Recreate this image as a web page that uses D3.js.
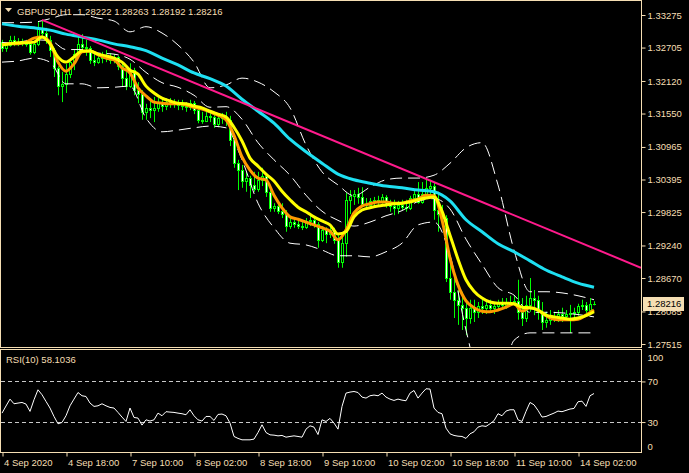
<!DOCTYPE html>
<html><head><meta charset="utf-8">
<script src="https://cdn.jsdelivr.net/npm/d3@7"></script>
<style>
html,body{margin:0;padding:0;background:#000;}
svg{display:block;}
text{font-family:"Liberation Sans",Arial,sans-serif;font-size:9.5px;white-space:pre;}
</style>
</head><body>
<svg id="c" width="689" height="473"></svg>
<script>
// ---------------- DATA ----------------
const symbol = "GBPUSD,H1";
const timeLabels = ["4 Sep 2020","4 Sep 18:00","7 Sep 10:00","8 Sep 02:00","8 Sep 18:00","9 Sep 10:00","10 Sep 02:00","10 Sep 18:00","11 Sep 10:00","14 Sep 02:00"];
const timeLabelBars = [0,16,32,48,64,80,96,112,128,144];
const priceTicks = [1.33275,1.32705,1.32120,1.31550,1.30965,1.30395,1.29825,1.29240,1.28670,1.28085,1.27515];
const rsiTicks = [100,70,30,0];
const rsiLevels = [70,30];

const open = [
1.3280,1.3270,1.3275,1.3284,1.3279,1.3280,1.3282,1.3277,1.3263,1.3277,
1.3305,1.3296,1.3284,1.3266,1.3235,1.3203,1.3207,1.3224,1.3245,1.3259,
1.3277,1.3272,1.3270,1.3249,1.3245,1.3252,1.3256,1.3252,1.3249,1.3254,
1.3238,1.3217,1.3203,1.3231,1.3196,1.3189,1.3158,1.3165,1.3161,1.3165,
1.3175,1.3168,1.3175,1.3173,1.3172,1.3170,1.3168,1.3166,1.3173,1.3161,
1.3144,1.3142,1.3151,1.3149,1.3137,1.3147,1.3149,1.3144,1.3109,1.3068,
1.3056,1.3037,1.3042,1.3030,1.3023,1.3039,1.3046,1.3018,1.2990,1.2993,
1.2984,1.2979,1.2958,1.2965,1.2962,1.2958,1.2956,1.2967,1.2969,1.2962,
1.2934,1.2951,1.2944,1.2951,1.2934,1.2895,1.2928,1.3004,1.3011,1.3014,
1.3009,1.2997,1.2995,1.3002,1.3004,1.3002,1.3009,1.2997,1.2993,1.2990,
1.2995,1.2991,1.2990,1.3007,1.3014,1.3000,1.3014,1.3025,1.3028,1.2986,
1.2979,1.2972,1.2867,1.2843,1.2829,1.2820,1.2815,1.2797,1.2815,1.2808,
1.2818,1.2815,1.2820,1.2815,1.2818,1.2823,1.2820,1.2825,1.2823,1.2827,
1.2808,1.2797,1.2820,1.2832,1.2829,1.2808,1.2790,1.2794,1.2799,1.2801,
1.2804,1.2801,1.2804,1.2806,1.2808,1.2818,1.2820,1.2811,1.28222];
const high = [
1.3284,1.3280,1.3291,1.3291,1.3287,1.3286,1.3284,1.3280,1.3280,1.3315,
1.3319,1.3305,1.3291,1.3270,1.3238,1.3228,1.3242,1.3252,1.3266,1.3291,
1.3294,1.3284,1.3273,1.3263,1.3259,1.3263,1.3266,1.3261,1.3259,1.3256,
1.3245,1.3228,1.3243,1.3235,1.3210,1.3196,1.3172,1.3182,1.3184,1.3182,
1.3182,1.3182,1.3182,1.3180,1.3179,1.3179,1.3175,1.3179,1.3177,1.3168,
1.3158,1.3158,1.3158,1.3158,1.3154,1.3156,1.3158,1.3151,1.3112,1.3074,
1.3065,1.3053,1.3046,1.3053,1.3053,1.3060,1.3049,1.3021,1.2998,1.2997,
1.2998,1.2986,1.2972,1.2972,1.2970,1.2969,1.2972,1.2976,1.2972,1.2965,
1.2958,1.2956,1.2958,1.2955,1.2942,1.2946,1.3016,1.3021,1.3021,1.3025,
1.3026,1.3007,1.3007,1.3009,1.3011,1.3014,1.3012,1.3004,1.3004,1.3002,
1.3004,1.3004,1.3011,1.3021,1.3035,1.3035,1.3042,1.3039,1.3035,1.3018,
1.2995,1.2977,1.2895,1.2867,1.2846,1.2843,1.2829,1.2829,1.2829,1.2825,
1.2829,1.2829,1.2829,1.2825,1.2829,1.2832,1.2832,1.2836,1.2836,1.2864,
1.2832,1.2836,1.2867,1.2846,1.2836,1.2825,1.2808,1.2811,1.2808,1.2811,
1.2815,1.2811,1.2820,1.2815,1.2822,1.2829,1.2825,1.2832,1.28263];
const low = [
1.3263,1.3263,1.3272,1.3273,1.3273,1.3273,1.3272,1.3258,1.3259,1.3273,
1.3291,1.3277,1.3254,1.3219,1.3187,1.3175,1.3191,1.3217,1.3231,1.3256,
1.3263,1.3256,1.3242,1.3238,1.3242,1.3243,1.3245,1.3242,1.3243,1.3231,
1.3203,1.3196,1.3200,1.3187,1.3173,1.3144,1.3144,1.3147,1.3140,1.3158,
1.3158,1.3161,1.3165,1.3165,1.3161,1.3161,1.3158,1.3161,1.3154,1.3138,
1.3137,1.3140,1.3140,1.3130,1.3131,1.3137,1.3133,1.3098,1.3060,1.3021,
1.3025,1.3018,1.3007,1.3018,1.3018,1.3028,1.3009,1.2983,1.2983,1.2979,
1.2972,1.2948,1.2953,1.2955,1.2953,1.2951,1.2953,1.2958,1.2955,1.2920,
1.2930,1.2928,1.2937,1.2927,1.2885,1.2885,1.2904,1.2979,1.2995,1.2997,
1.2991,1.2990,1.2990,1.2993,1.2993,1.2997,1.2990,1.2983,1.2977,1.2979,
1.2986,1.2983,1.2986,1.3000,1.2997,1.2997,1.3007,1.3012,1.2969,1.2948,
1.2960,1.2860,1.2829,1.2797,1.2785,1.2776,1.2767,1.2787,1.2790,1.2797,
1.2804,1.2804,1.2808,1.2804,1.2811,1.2815,1.2813,1.2818,1.2818,1.2794,
1.2783,1.2790,1.2808,1.2802,1.2794,1.2776,1.2780,1.2785,1.2790,1.2790,
1.2790,1.2794,1.2771,1.2797,1.2801,1.2811,1.2804,1.2808,1.28192];
const close = [
1.3270,1.3275,1.3284,1.3279,1.3280,1.3282,1.3277,1.3263,1.3277,1.3305,
1.3296,1.3284,1.3266,1.3235,1.3203,1.3207,1.3224,1.3245,1.3259,1.3277,
1.3272,1.3270,1.3249,1.3245,1.3252,1.3256,1.3252,1.3249,1.3254,1.3238,
1.3217,1.3203,1.3231,1.3196,1.3189,1.3158,1.3165,1.3161,1.3165,1.3175,
1.3168,1.3175,1.3173,1.3172,1.3170,1.3168,1.3166,1.3173,1.3161,1.3144,
1.3142,1.3151,1.3149,1.3137,1.3147,1.3149,1.3144,1.3109,1.3068,1.3056,
1.3037,1.3042,1.3030,1.3023,1.3039,1.3046,1.3018,1.2990,1.2993,1.2984,
1.2979,1.2958,1.2965,1.2962,1.2958,1.2956,1.2967,1.2969,1.2962,1.2934,
1.2951,1.2944,1.2951,1.2934,1.2895,1.2928,1.3004,1.3011,1.3014,1.3009,
1.2997,1.2995,1.3002,1.3004,1.3002,1.3009,1.2997,1.2993,1.2990,1.2995,
1.2991,1.2990,1.3007,1.3014,1.3000,1.3014,1.3025,1.3028,1.2986,1.2979,
1.2972,1.2867,1.2843,1.2829,1.2820,1.2815,1.2797,1.2815,1.2808,1.2818,
1.2815,1.2820,1.2815,1.2818,1.2823,1.2820,1.2825,1.2823,1.2827,1.2808,
1.2797,1.2820,1.2832,1.2829,1.2808,1.2790,1.2794,1.2799,1.2801,1.2804,
1.2801,1.2804,1.2806,1.2808,1.2818,1.2820,1.2811,1.2822,1.28216];

const rsi = [
38.8,45.8,52.6,48.0,48.7,49.3,47.7,40.5,52.0,61.8,
56.9,50.3,43.8,35.5,28.3,29.6,36.2,46.0,52.6,59.1,
55.9,55.2,48.7,45.4,46.0,48.0,46.0,44.4,43.8,39.5,
34.9,30.6,43.8,34.5,33.9,27.0,32.2,31.0,32.2,38.8,
36.2,40.2,39.8,39.5,38.8,38.2,37.2,42.1,36.2,32.2,
31.0,35.5,35.5,31.6,37.5,37.9,36.2,29.0,15.8,13.9,
12.5,12.5,12.5,13.2,19.7,27.3,19.7,17.4,17.1,16.4,
16.8,15.1,15.8,16.4,15.8,15.1,23.0,26.3,25.0,17.7,
32.2,30.6,33.6,29.0,23.0,45.4,58.5,59.5,60.1,59.1,
54.6,53.6,55.9,56.6,55.9,58.5,54.6,52.6,51.3,52.6,
51.6,51.0,58.5,61.1,53.6,58.5,62.8,62.5,43.8,39.5,
38.2,24.0,18.4,16.8,16.1,15.8,13.9,18.4,20.4,25.0,
26.3,25.7,28.3,31.3,38.2,36.2,40.8,42.1,42.1,32.2,
30.6,40.5,49.3,47.0,41.5,34.9,35.5,37.2,38.8,40.8,
40.2,41.5,42.8,43.4,50.0,50.6,45.4,55.9,58.1036];

// moving averages read every 2 bars
const maBars = [0,2,4,6,8,10,12,14,16,18,20,22,24,26,28,30,32,34,36,38,40,42,44,46,48,50,52,54,56,58,60,62,64,66,68,70,72,74,76,78,80,82,84,86,88,90,92,94,96,98,100,102,104,106,108,110,112,114,116,118,120,122,124,126,128,130,132,134,136,138,140,142,144,146,148];
const maYellow = [
1.3275,1.3277,1.3279,1.3279,1.3280,1.3289,1.3277,1.3254,1.3245,1.3254,
1.32645,1.32645,1.3259,1.3256,1.3252,1.3245,1.3231,1.3224,1.3203,1.3191,
1.3182,1.3177,1.3173,1.3172,1.3168,1.3165,1.3159,1.3154,1.3149,1.3131,
1.3107,1.3077,1.3063,1.3049,1.3037,1.3019,1.3004,1.2991,1.2983,1.2974,
1.2967,1.2960,1.2944,1.2948,1.2974,1.2986,1.2990,1.2993,1.2995,1.2997,
1.2998,1.3000,1.3004,1.3007,1.3009,1.2984,1.2942,1.2900,1.2864,1.2844,
1.2832,1.2825,1.2823,1.2823,1.2822,1.2816,1.2815,1.2811,1.2802,1.2799,
1.2797,1.2795,1.2797,1.2801,1.2808];
const maOrange = [
1.3275,1.3277,1.3277,1.3280,1.3287,1.3289,1.3279,1.3245,1.3229,1.3242,
1.3263,1.32645,1.3258,1.3252,1.3249,1.3235,1.3226,1.3200,1.3186,1.3175,
1.3173,1.3172,1.3172,1.3170,1.3166,1.3163,1.3158,1.3152,1.3144,1.3117,
1.3079,1.3056,1.3042,1.3039,1.3012,1.2990,1.2974,1.2970,1.2965,1.2960,
1.2955,1.2949,1.2934,1.2951,1.2981,1.2993,1.2997,1.3000,1.3000,1.2998,
1.2998,1.3002,1.3005,1.3012,1.3011,1.2969,1.2902,1.2855,1.2827,1.2815,
1.2809,1.2808,1.2811,1.2816,1.2822,1.2809,1.2815,1.2811,1.2801,1.2795,
1.2794,1.2794,1.2795,1.2802,1.2811];

// slow MA and bands read every 4 bars
const bandBars = [0,4,8,12,16,20,24,28,32,36,40,44,48,52,56,60,64,68,72,76,80,84,88,92,96,100,104,108,112,116,120,124,128,132,136,140,144,148];
const maCyan = [
1.3312,1.3308,1.3305,1.3301,1.3294,1.3289,1.3284,1.3277,1.3272,1.3265,
1.3252,1.3240,1.3226,1.3216,1.3203,1.3180,1.3159,1.3138,1.3110,1.3088,
1.3068,1.3049,1.3039,1.3033,1.3028,1.3025,1.3021,1.3018,1.3002,1.2969,
1.2948,1.2927,1.2913,1.2897,1.2881,1.2869,1.2858,1.2851];
const bbUpper = [
1.3314,1.3314,1.3315,1.3321,1.3328,1.3328,1.3322,1.3317,1.3298,1.3307,
1.3296,1.3275,1.3245,1.3200,1.3205,1.3217,1.3210,1.3193,1.3165,1.3100,
1.3053,1.3030,1.3011,1.3026,1.3039,1.3042,1.3042,1.3047,1.3068,1.3095,
1.3104,1.3030,1.2916,1.2843,1.2843,1.2841,1.2836,1.2829];
const bbMiddle = [
1.3279,1.3280,1.3284,1.3283,1.3267,1.3267,1.3261,1.3259,1.3250,1.3227,
1.3209,1.3201,1.3187,1.3166,1.3167,1.3145,1.3104,1.3074,1.3047,1.3012,
1.2984,1.2968,1.2958,1.2965,1.2976,1.2985,1.3001,1.3006,1.2988,1.2935,
1.2891,1.2850,1.2837,1.2807,1.2807,1.2806,1.2803,1.2799];
const bbLower = [
1.3245,1.3247,1.3252,1.3245,1.3207,1.3207,1.3200,1.3201,1.3203,1.3147,
1.3123,1.3126,1.3130,1.3133,1.3130,1.3074,1.2998,1.2955,1.2928,1.2925,
1.2916,1.2906,1.2906,1.2904,1.2913,1.2928,1.2960,1.2965,1.2907,1.2776,
1.2680,1.2671,1.2758,1.2771,1.2771,1.2771,1.2771,1.2771];

// trend line anchors (bar index, price); drawn as a ray to the right edge
const trendBars = [10,148];
const trendPrices = [1.3319,1.2919];

// ---------------- DRAW ----------------
const fg = "#f5deb3";
const svg = d3.select("#c");
svg.append("rect").attr("width",689).attr("height",473).attr("fill","#000");

const x = d3.scaleLinear().domain([0,148]).range([2,594]);
const y = d3.scaleLinear().domain([1.27515,1.33275]).range([344,15]);
const yr = d3.scaleLinear().domain([0,100]).range([452.5,351]);

const defs = svg.append("defs");
defs.append("clipPath").attr("id","clipMain").append("rect").attr("x",1).attr("y",1).attr("width",640).attr("height",346);
defs.append("clipPath").attr("id","clipRsi").append("rect").attr("x",1).attr("y",350).attr("width",640).attr("height",102);

const main = svg.append("g").attr("clip-path","url(#clipMain)");

// candles
const cg = main.append("g");
close.forEach((c,i)=>{
  const o=open[i], h=high[i], l=low[i];
  const xi = Math.round(x(i));
  cg.append("line").attr("x1",xi+0.5).attr("x2",xi+0.5)
    .attr("y1",y(h)).attr("y2",y(l)).attr("stroke","#00ff00").attr("stroke-width",1);
  const top = Math.round(y(Math.max(o,c))), bot = Math.round(y(Math.min(o,c)));
  if (bot-top < 1) {
    cg.append("line").attr("x1",xi-1).attr("x2",xi+2).attr("y1",top+0.5).attr("y2",top+0.5)
      .attr("stroke","#00ff00");
  } else {
    cg.append("rect").attr("x",xi-0.5).attr("y",top+0.5).attr("width",2).attr("height",bot-top)
      .attr("fill", c>o ? "#000" : "#fff").attr("stroke","#00ff00").attr("stroke-width",1);
  }
});

function path(bars, vals){
  return d3.line().x((d,i)=>x(bars[i])).y(d=>y(d)).curve(d3.curveMonotoneX)(vals);
}
// Bollinger bands (dashed white)
[bbUpper,bbMiddle,bbLower].forEach(arr=>{
  main.append("path").attr("d",path(bandBars,arr)).attr("fill","none")
    .attr("stroke","#fff").attr("stroke-width",1).attr("stroke-dasharray","12,6");
});
// slow MA
main.append("path").attr("d",path(bandBars,maCyan)).attr("fill","none")
  .attr("stroke","#1ee0f2").attr("stroke-width",3);
// fast MAs
main.append("path").attr("d",path(maBars,maOrange)).attr("fill","none")
  .attr("stroke","#ff9a00").attr("stroke-width",3);
main.append("path").attr("d",path(maBars,maYellow)).attr("fill","none")
  .attr("stroke","#ffff00").attr("stroke-width",3);
// trend line (ray)
{
  const x1=x(trendBars[0]), y1=y(trendPrices[0]), x2=x(trendBars[1]), y2=y(trendPrices[1]);
  const xe=641, ye=y1+(y2-y1)*(xe-x1)/(x2-x1);
  main.append("line").attr("x1",x1).attr("y1",y1).attr("x2",xe).attr("y2",ye)
    .attr("stroke","#ff1a8c").attr("stroke-width",2);
}

// frames
svg.append("rect").attr("x",0.5).attr("y",0.5).attr("width",641).attr("height",347)
  .attr("fill","none").attr("stroke",fg);
svg.append("rect").attr("x",0.5).attr("y",349.5).attr("width",641).attr("height",103)
  .attr("fill","none").attr("stroke",fg);

// price axis
const pa = svg.append("g").attr("transform","translate(641.5,0)")
  .call(d3.axisRight(y).tickValues(priceTicks).tickSize(4).tickPadding(2).tickFormat(d3.format(".5f")));
pa.select(".domain").remove();
pa.selectAll("line").attr("stroke",fg);
pa.selectAll("text").attr("fill",fg).attr("font-family","Liberation Sans, Arial, sans-serif").attr("font-size","9.5px");

// current price label
const lastC = close[close.length-1];
svg.append("rect").attr("x",643).attr("y",Math.round(y(lastC))-7).attr("width",41).attr("height",14).attr("fill",fg);
svg.append("text").attr("x",647).attr("y",y(lastC)).attr("dy","0.35em").attr("fill","#000").text(lastC.toFixed(5));

// title
svg.append("path").attr("d","M5,8L12,8L8.5,12Z").attr("fill",fg);
svg.append("text").attr("x",17).attr("y",14.5).attr("fill",fg)
  .text(`${symbol}  ${open[148].toFixed(5)} ${high[148].toFixed(5)} ${low[148].toFixed(5)} ${close[148].toFixed(5)}`);

// RSI panel
const rg = svg.append("g").attr("clip-path","url(#clipRsi)");
rsiLevels.forEach(v=>{
  rg.append("line").attr("x1",1).attr("x2",641).attr("y1",Math.round(yr(v))+0.5).attr("y2",Math.round(yr(v))+0.5)
    .attr("stroke","#c8c8c8").attr("stroke-dasharray","4,3");
});
rg.append("path").attr("d",d3.line().x((d,i)=>x(i)).y(d=>yr(d))(rsi))
  .attr("fill","none").attr("stroke","#fff").attr("stroke-width",1);
svg.append("text").attr("x",6).attr("y",362.5).attr("fill",fg).text(`RSI(10) ${rsi[rsi.length-1]}`);

const ra = svg.append("g").attr("transform","translate(641.5,0)")
  .call(d3.axisRight(yr).tickValues(rsiTicks).tickSize(4).tickPadding(2));
ra.select(".domain").remove();
ra.selectAll("line").attr("stroke",fg);
ra.selectAll("text").attr("fill",fg).attr("font-family","Liberation Sans, Arial, sans-serif").attr("font-size","9.5px")
  .attr("dy",d=> d===100 ? "0.95em" : d===0 ? "-0.3em" : "0.32em");
ra.selectAll(".tick").filter(d=>d===100||d===0).select("line").remove();

// time axis
const ta = svg.append("g").attr("transform","translate(0,452.5)")
  .call(d3.axisBottom(x).tickValues(timeLabelBars).tickSize(4).tickPadding(3).tickFormat((d,i)=>timeLabels[i]));
ta.select(".domain").remove();
ta.selectAll("line").attr("stroke",fg).attr("transform","translate(0.5,0)");
ta.selectAll("text").attr("fill",fg).attr("text-anchor","start").attr("x",1.5)
  .attr("font-family","Liberation Sans, Arial, sans-serif").attr("font-size","9.5px");
</script>
</body></html>
